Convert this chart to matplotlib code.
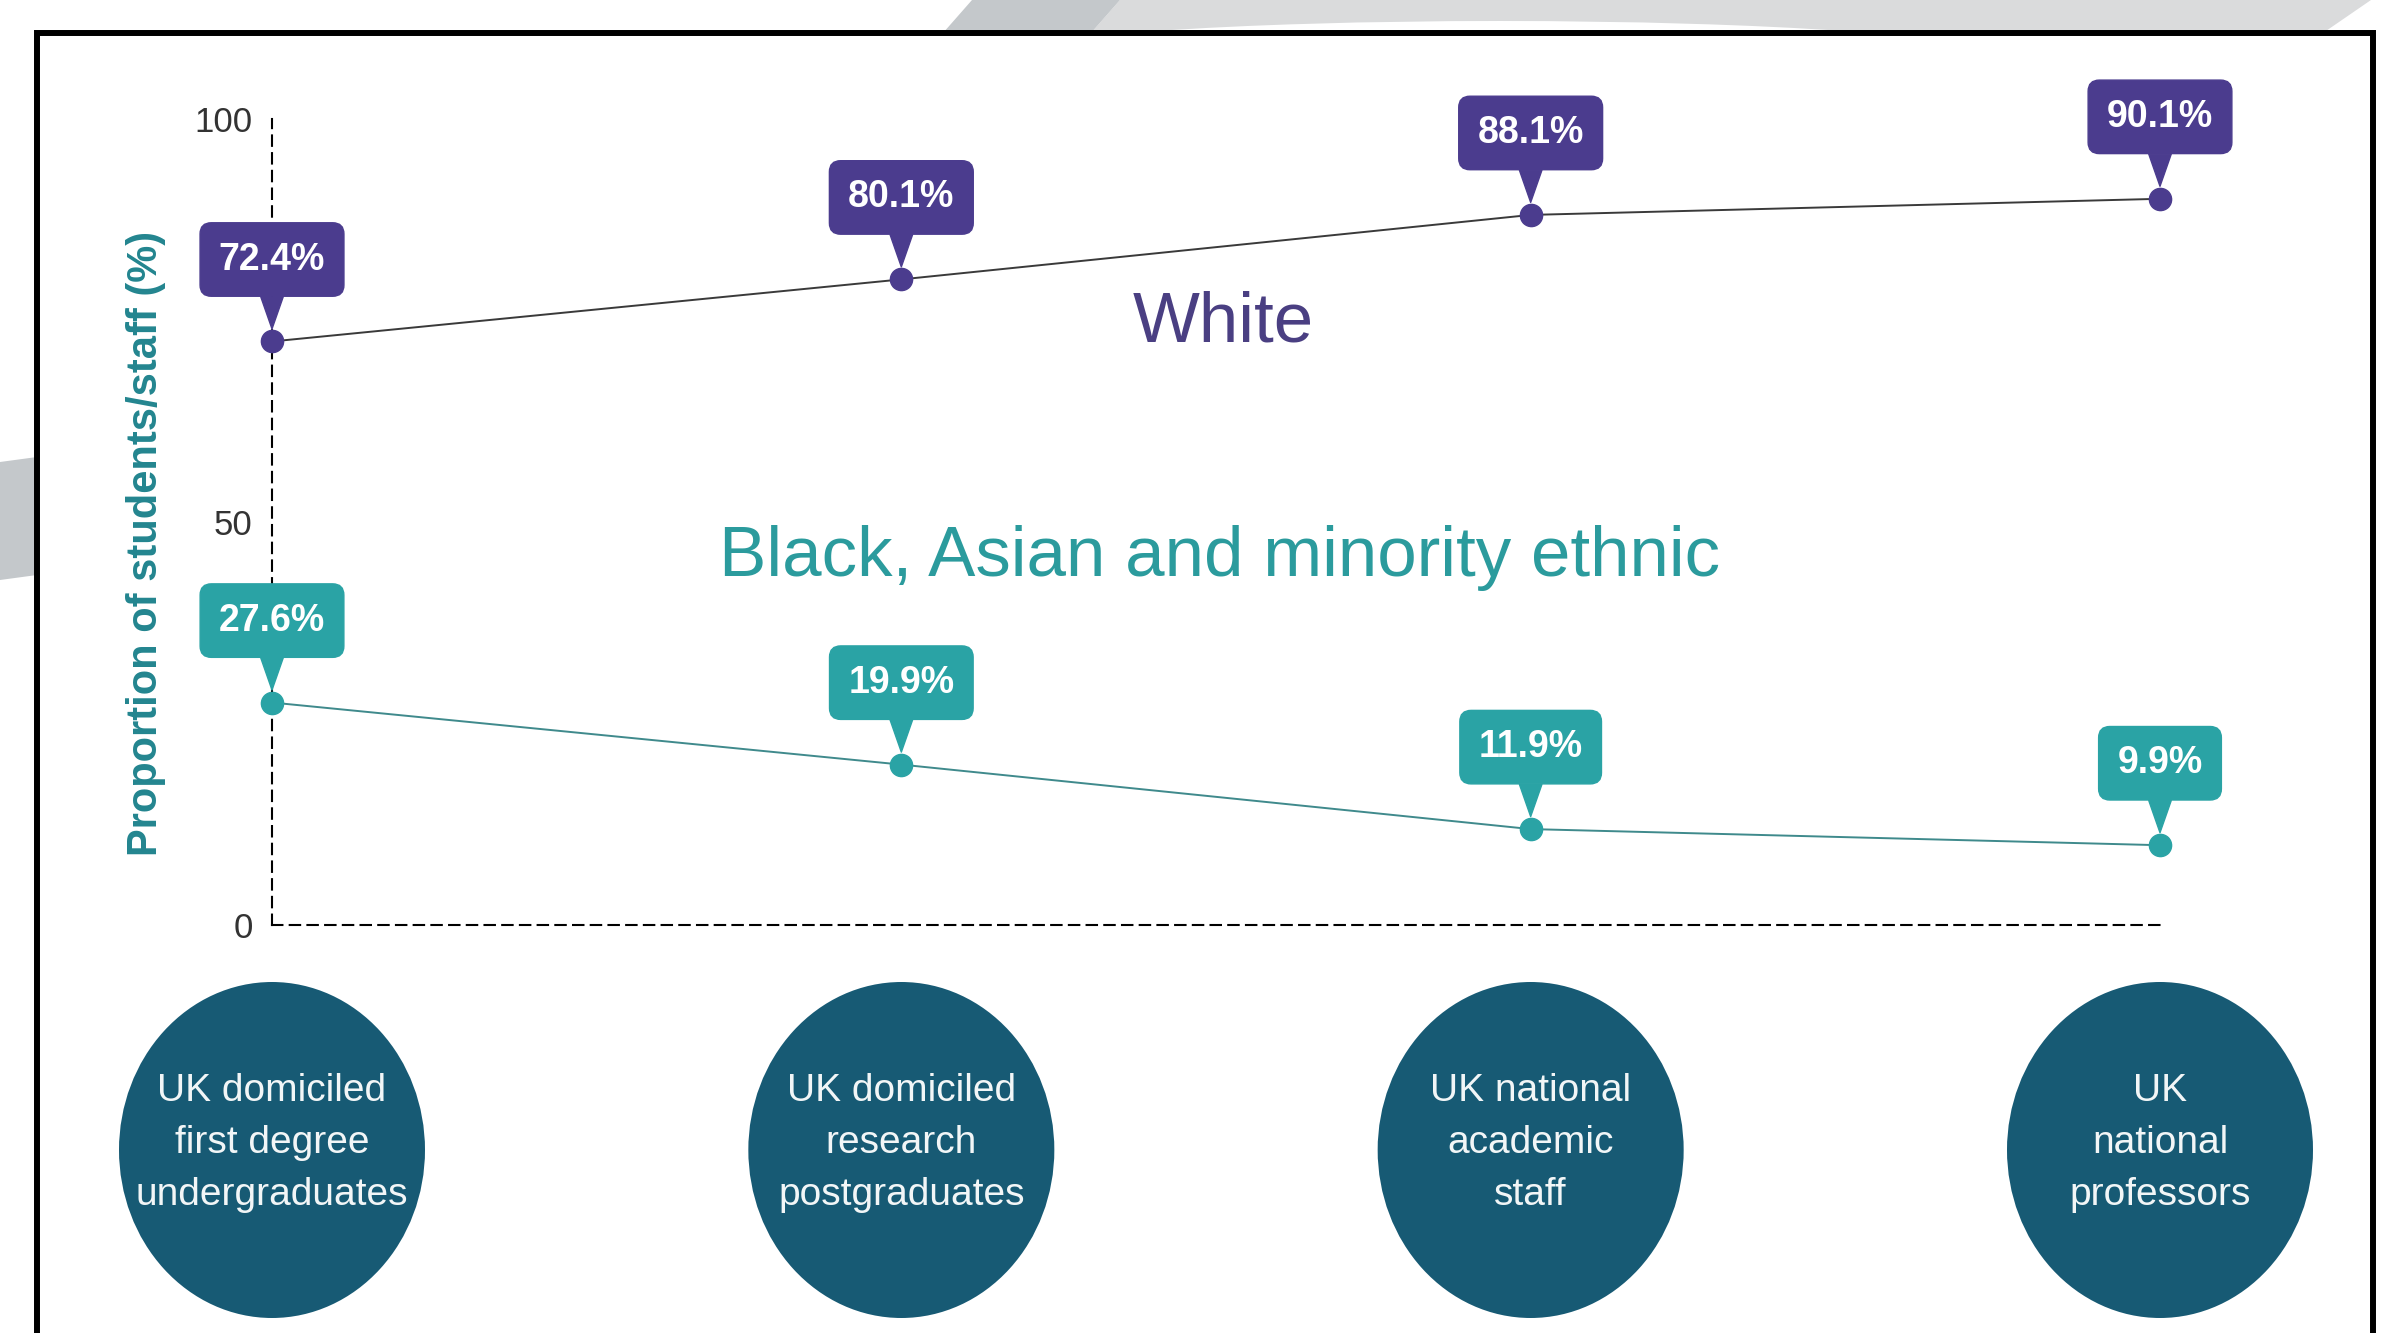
import numpy as np
import matplotlib
matplotlib.use('Agg')
import matplotlib.pyplot as plt
from matplotlib.patches import Ellipse, Polygon, Rectangle

# data
groups = ['UK domiciled\nfirst degree\nundergraduates',
          'UK domiciled\nresearch\npostgraduates',
          'UK national\nacademic\nstaff',
          'UK\nnational\nprofessors']
white_pct = [72.4, 80.1, 88.1, 90.1]
bame_pct = [27.6, 19.9, 11.9, 9.9]
yticks = [0, 50, 100]

# colours
purple = '#4b3c8e'
teal = '#2aa3a5'
navy = '#175a74'

plt.rcParams['font.family'] = ['Liberation Sans', 'DejaVu Sans']

W, H = 2398, 1333
fig = plt.figure(figsize=(W / 100, H / 100), dpi=100)
fig.patch.set_facecolor('white')


def fpt(x, y):
  # pixel (from top-left) -> figure fraction
  return (x / W, 1 - y / H)


# grey decorations behind the frame
fig.patches.append(Polygon([fpt(1091, 33), fpt(1120, 0), fpt(2371, 0), fpt(2323, 33)],
                           closed=True, transform=fig.transFigure, fc='#dadbdc', ec='none', zorder=0))
fig.patches.append(Ellipse(fpt(1500, 56), 980 / W, 70 / H, transform=fig.transFigure,
                           fc='white', ec='none', zorder=0.5))
fig.patches.append(Polygon([fpt(943, 33), fpt(972, 0), fpt(1120, 0), fpt(1091, 33)],
                           closed=True, transform=fig.transFigure, fc='#c4c8cb', ec='none', zorder=1))
fig.patches.append(Polygon([fpt(0, 462), fpt(37, 457), fpt(37, 575), fpt(0, 580)],
                           closed=True, transform=fig.transFigure, fc='#c4c8cb', ec='none', zorder=1))
# black frame
x0, y0 = fpt(37, 1345)
x1, y1 = fpt(2373, 33)
fig.patches.append(Rectangle((x0, y0), x1 - x0, y1 - y0, transform=fig.transFigure,
                             fill=False, ec='black', lw=4.3, zorder=2))

# main axes
left, right, top, bottom = 272, 2160, 119, 925
ax = fig.add_axes([left / W, (H - bottom) / H, (right - left) / W, (bottom - top) / H])
ax.set_facecolor('none')
x = np.arange(len(groups))
ax.set_xlim(0, len(groups) - 1)
ax.set_ylim(0, 100)

for s in ['top', 'right']:
  ax.spines[s].set_visible(False)
for s in ['left', 'bottom']:
  ax.spines[s].set_linestyle((0, (5, 3.5)))
  ax.spines[s].set_linewidth(1.5)

ax.set_xticks([])
ax.set_yticks(yticks)
ax.tick_params(axis='y', length=0, pad=14, labelsize=25, labelcolor='#333333')
ax.set_ylabel('Proportion of students/staff (%)', fontsize=30, fontweight='bold', color='#23858f')
ax.yaxis.set_label_coords(-0.056, 0.474)

# lines + markers
ax.plot(x, white_pct, color='#3a3a3a', lw=1.4, zorder=3, clip_on=False)
ax.plot(x, white_pct, 'o', color=purple, ms=16, zorder=4, clip_on=False)
ax.plot(x, bame_pct, color='#3f8a8c', lw=1.4, zorder=3, clip_on=False)
ax.plot(x, bame_pct, 'o', color=teal, ms=16, zorder=4, clip_on=False)

# callouts
for vals, col in [(white_pct, purple), (bame_pct, teal)]:
  for i, v in enumerate(vals):
    ax.annotate(f'{v}%', xy=(i, v), xytext=(0, 59), textcoords='offset points',
                ha='center', va='center', fontsize=27, fontweight='bold', color='white',
                bbox=dict(boxstyle='round,pad=0.5,rounding_size=0.3', fc=col, ec=col),
                arrowprops=dict(arrowstyle='wedge,tail_width=0.6', fc=col, ec=col,
                                shrinkA=0, shrinkB=9),
                annotation_clip=False, zorder=5)

# series names
ax.text(1.511, 74.6, 'White', ha='center', va='center', fontsize=51, color='#4a3f82')
ax.text(1.506, 45.5, 'Black, Asian and minority ethnic', ha='center', va='center',
        fontsize=51, color='#2b9b9d')

# category circles under the axis
px_x = (right - left) / (len(groups) - 1)
px_y = (bottom - top) / 100
for i, g in enumerate(groups):
  e = Ellipse((i, -(1150 - bottom) / px_y), 2 * 153 / px_x, 2 * 168 / px_y,
              fc=navy, ec='none', clip_on=False, zorder=3)
  ax.add_patch(e)
  ax.text(i, -(1143 - bottom) / px_y, g, ha='center', va='center', fontsize=28,
          color='#f2f6f7', linespacing=1.57, zorder=4, clip_on=False)

plt.savefig('out.png', dpi=100)
plt.close()
